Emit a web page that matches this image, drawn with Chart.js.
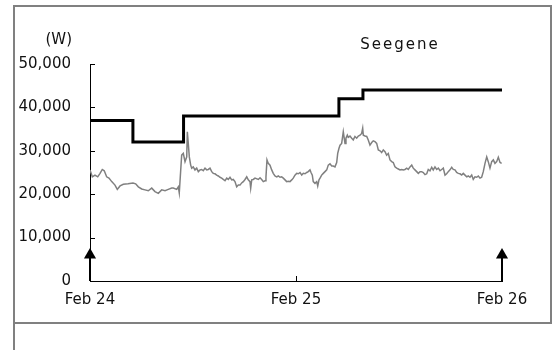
<!DOCTYPE html>
<html>
<head>
<meta charset="utf-8">
<script src="https://cdn.jsdelivr.net/npm/chart.js@4.4.1/dist/chart.umd.min.js"></script>
<style>
  body { margin: 0; background: #fff; }
  .box { position: absolute; left: 13px; top: 5px; width: 535px; height: 315px; border: 2px solid #808080; }
  .tail { position: absolute; left: 13px; top: 324px; width: 2px; height: 26px; background: #808080; }
  #chart { position: absolute; left: 0; top: 0; }
</style>
</head>
<body>
<div class="box"></div>
<div class="tail"></div>
<canvas id="chart" width="555" height="350"></canvas>
<script>
const chartTitle = 'Seegene';
const unitLabel = '(W)';
const dayLabels = ['Feb 24', 'Feb 25', 'Feb 26'];
const yTicks = [0, 10000, 20000, 30000, 40000, 50000];

// stepped line: hour of change -> new level (W)
const stepHours = [0, 5.0, 10.9, 29.0, 31.8, 48];
const stepW = [37000, 32000, 38000, 42000, 44000, 44000];

// measured power, hours since Feb 24 00:00
const powerHours = [
  0, 0.27, 0.58, 0.90, 1.17, 1.43, 1.66, 1.94, 2.21, 2.53, 2.91, 3.18, 3.50, 3.88, 4.43,
  5.01, 5.32, 5.63, 6.02, 6.41, 6.79, 7.19, 7.57, 7.96, 8.35, 8.74, 9.12, 9.52, 9.70, 10.10,
  10.29, 10.40, 10.68, 10.87, 11.07, 11.27, 11.34, 11.45, 11.57, 11.73, 11.85, 12.03, 12.23, 12.43, 12.62,
  12.82, 13.01, 13.20, 13.40, 13.60, 13.78, 13.98, 14.18, 14.36, 14.56, 14.76, 14.95, 15.15, 15.34, 15.53,
  15.73, 15.93, 16.11, 16.31, 16.51, 16.69, 16.89, 17.09, 17.28, 17.48, 17.67, 17.86, 18.06, 18.26, 18.44,
  18.64, 18.72, 18.84, 19.02, 19.22, 19.61, 19.81, 20.00, 20.19, 20.39, 20.50, 20.62, 20.77, 20.97, 21.17,
  21.35, 21.55, 21.75, 21.94, 22.14, 22.33, 22.52, 22.72, 22.91, 23.10, 23.30, 23.50, 23.68, 23.88, 24.08,
  24.27, 24.47, 24.67, 24.85, 25.05, 25.25, 25.43, 25.63, 25.75, 25.90, 26.01, 26.21, 26.41, 26.53, 26.68,
  26.80, 26.99, 27.18, 27.38, 27.58, 27.76, 27.96, 28.16, 28.34, 28.54, 28.74, 28.86, 29.01, 29.13, 29.32,
  29.51, 29.71, 29.82, 29.98, 30.09, 30.29, 30.49, 30.67, 30.87, 31.07, 31.26, 31.46, 31.65, 31.77, 31.84,
  32.04, 32.24, 32.42, 32.62, 32.82, 33.00, 33.20, 33.40, 33.59, 33.79, 33.98, 34.17, 34.37, 34.56, 34.75,
  34.95, 35.15, 35.33, 35.53, 35.73, 35.92, 36.12, 36.31, 36.50, 36.70, 36.90, 37.08, 37.28, 37.48, 37.66,
  37.86, 38.06, 38.25, 38.45, 38.64, 38.83, 39.03, 39.23, 39.41, 39.61, 39.81, 39.99, 40.19, 40.39, 40.58,
  40.78, 40.97, 41.16, 41.36, 41.55, 41.74, 41.94, 42.14, 42.32, 42.52, 42.72, 42.91, 43.11, 43.30, 43.49,
  43.69, 43.89, 44.07, 44.27, 44.47, 44.65, 44.85, 45.05, 45.24, 45.44, 45.63, 45.82, 46.02, 46.22, 46.40,
  46.60, 46.80, 46.99, 47.18, 47.38, 47.57, 47.77, 47.96
];
const powerW = [
  25600, 24000, 24400, 24000, 24800, 25700, 25400, 24000, 23700, 22900, 22100, 21100, 21900, 22300, 22400,
  22600, 22400, 21700, 21200, 21000, 20800, 21400, 20600, 20200, 21000, 20800, 21100, 21400, 21400, 21100,
  21700, 20300, 29000, 29400, 27500, 28600, 34400, 31700, 28600, 26700, 26000, 26300, 25600, 26000, 25200,
  25600, 25700, 25400, 26000, 25600, 25700, 26000, 25200, 24800, 24700, 24400, 24200, 23900, 23700, 23400,
  23100, 23700, 23400, 23900, 23300, 23400, 22900, 21700, 22100, 22100, 22600, 22900, 23400, 24000, 23300,
  22900, 21400, 23300, 23400, 23700, 23400, 23800, 23400, 22900, 23100, 24000, 27900, 27100, 26700, 25600,
  24800, 24200, 24000, 24200, 23900, 24000, 23700, 23300, 22900, 23000, 22900, 23300, 23700, 24400, 24800,
  24700, 25000, 24400, 24800, 24700, 25000, 25200, 25600, 25000, 24400, 22900, 22500, 22900, 21900, 23300,
  23700, 24400, 24800, 25200, 25600, 26700, 27000, 26500, 26500, 26300, 27300, 29400, 30600, 31300, 31700,
  34400, 31700, 32900, 33600, 33100, 33400, 32900, 32500, 33300, 32900, 33400, 33600, 34000, 35200, 33600,
  33400, 33300, 32500, 31300, 31900, 32300, 32100, 31700, 30200, 30000, 29600, 30200, 29800, 29000, 29400,
  27900, 27500, 27300, 26300, 26000, 25800, 25600, 25700, 25600, 25700, 26000, 25700, 26300, 26700, 26000,
  25600, 25200, 24800, 25200, 25200, 25000, 24500, 24700, 25700, 25400, 26200, 25600, 26300, 25700, 26000,
  25400, 25700, 26000, 24400, 24700, 25200, 25600, 26200, 25700, 25600, 25000, 24800, 24700, 24400, 24800,
  24400, 24000, 24200, 23900, 24400, 23400, 24000, 23900, 24200, 23700, 23900, 25200, 27100, 28600, 27500,
  26000, 27500, 27900, 27100, 27500, 28500, 27300, 27100
];

// arrow markers at both ends of the period
const arrowHours = [0, 48];
const arrowTop = 6000;

const arrowData = [];
arrowHours.forEach((h, i) => {
  if (i > 0) arrowData.push({ x: (arrowHours[i - 1] + h) / 2, y: null });
  arrowData.push({ x: h, y: 0 }, { x: h, y: arrowTop });
});

const innerTicks = {
  id: 'innerTicks',
  afterDraw(chart) {
    const { ctx, scales: { x, y } } = chart;
    ctx.save();
    ctx.strokeStyle = '#000';
    ctx.lineWidth = 1;
    ctx.beginPath();
    y.ticks.forEach(t => {
      if (t.value === 0) return;
      const py = Math.round(y.getPixelForValue(t.value)) + 0.5;
      ctx.moveTo(x.left, py);
      ctx.lineTo(x.left + 5, py);
    });
    x.ticks.forEach(t => {
      const px = Math.round(x.getPixelForValue(t.value)) + 0.5;
      ctx.moveTo(px, y.bottom);
      ctx.lineTo(px, y.bottom - 5);
    });
    ctx.stroke();

    ctx.fillStyle = '#111';
    ctx.font = '15px "DejaVu Sans"';
    ctx.textBaseline = 'middle';
    ctx.textAlign = 'right';
    ctx.fillText(unitLabel, 72, 40);
    ctx.textAlign = 'center';
    ctx.letterSpacing = '2px';
    ctx.fillText(chartTitle, x.right - 102, 45);
    ctx.restore();
  }
};

new Chart(document.getElementById('chart'), {
  type: 'line',
  data: {
    datasets: [
      {
        label: 'Power',
        data: powerHours.map((h, i) => ({ x: h, y: powerW[i] })),
        borderColor: '#808080',
        borderWidth: 1.5,
        pointRadius: 0,
        tension: 0
      },
      {
        label: 'Contract',
        data: stepHours.map((h, i) => ({ x: h, y: stepW[i] })),
        borderColor: '#000',
        borderWidth: 3,
        pointRadius: 0,
        stepped: true
      },
      {
        label: 'Arrows',
        data: arrowData,
        borderColor: '#000',
        backgroundColor: '#000',
        borderWidth: 2,
        spanGaps: false,
        clip: false,
        pointStyle: 'triangle',
        pointRadius: c => (c.raw && c.raw.y === arrowTop ? 7 : 0),
        pointBorderWidth: 0
      }
    ]
  },
  plugins: [innerTicks],
  options: {
    responsive: false,
    animation: false,
    devicePixelRatio: 1,
    layout: {
      padding: { left: 0, right: 53, top: 64, bottom: 29 }
    },
    plugins: {
      legend: { display: false },
      title: { display: false },
      tooltip: { enabled: false }
    },
    scales: {
      x: {
        type: 'linear',
        min: 0,
        max: 48,
        afterFit: s => { s.height = 40; },
        afterBuildTicks: s => { s.ticks = [0, 24, 48].map(v => ({ value: v })); },
        ticks: {
          callback: v => dayLabels[v / 24],
          autoSkip: false,
          maxRotation: 0,
          padding: 10,
          color: '#111',
          font: { family: 'DejaVu Sans', size: 15 }
        },
        grid: { display: false, drawTicks: false },
        border: { display: true, color: '#000', width: 1 }
      },
      y: {
        min: 0,
        max: 50000,
        afterFit: s => { s.width = 90; },
        afterBuildTicks: s => { s.ticks = yTicks.map(v => ({ value: v })); },
        ticks: {
          callback: v => v.toLocaleString('en-US'),
          padding: 19,
          color: '#111',
          font: { family: 'DejaVu Sans', size: 15 }
        },
        grid: { display: false, drawTicks: false },
        border: { display: true, color: '#000', width: 1 }
      }
    }
  }
});
</script>
</body>
</html>
